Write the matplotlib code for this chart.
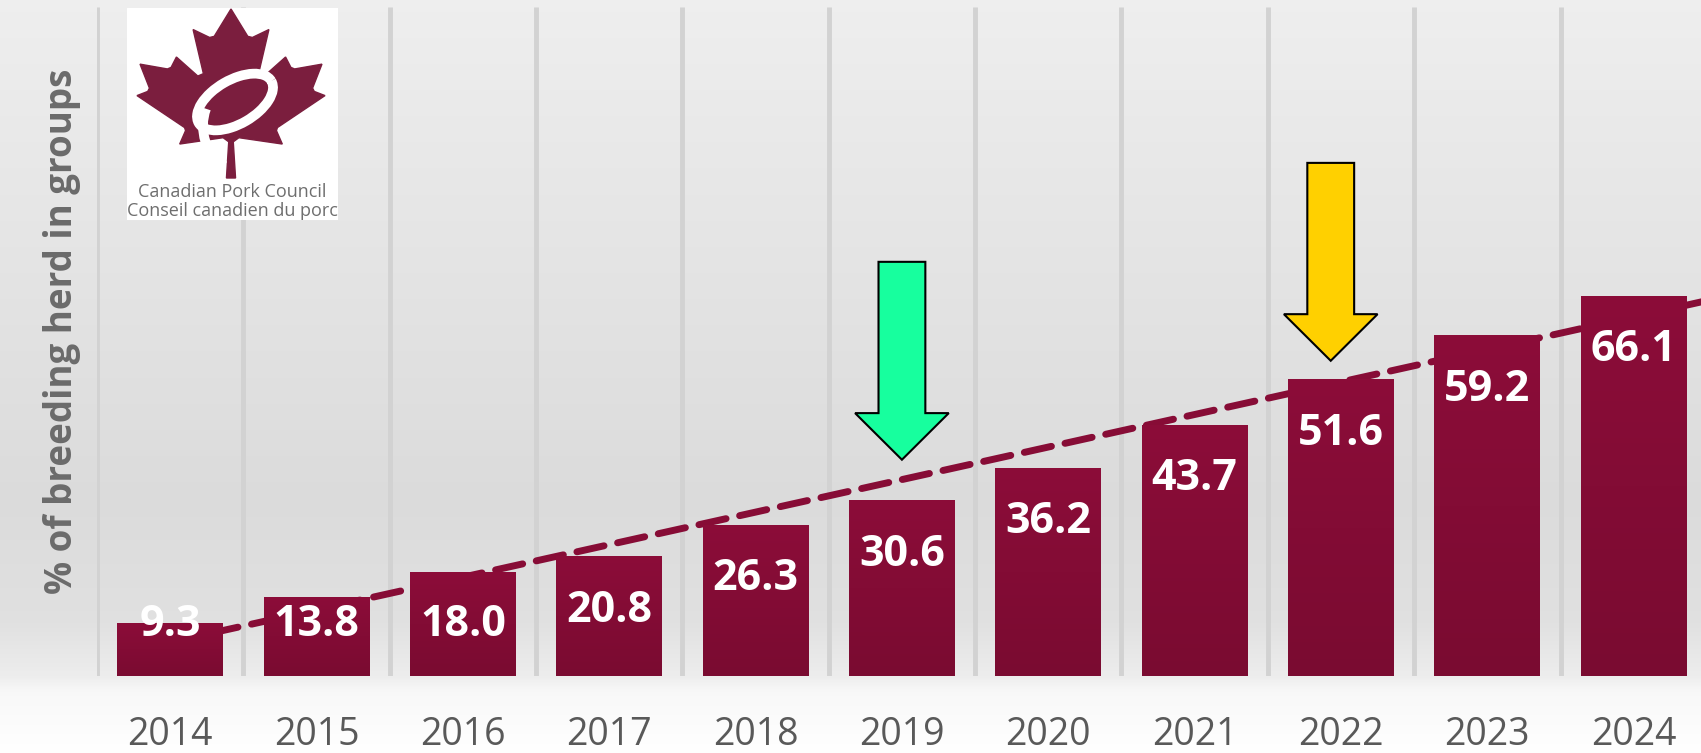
import numpy as np
import matplotlib.pyplot as plt
from matplotlib.patches import Polygon, FancyArrow, Arc, Rectangle
from matplotlib.colors import LinearSegmentedColormap

years = ['2014', '2015', '2016', '2017', '2018', '2019', '2020', '2021', '2022', '2023', '2024']
share = [9.3, 13.8, 18.0, 20.8, 26.3, 30.6, 36.2, 43.7, 51.6, 59.2, 66.1]

# the two highlight arrows: x position (category index), top and tip in % units
arrow_x = [5.0, 7.93]
arrow_top = [72.0, 89.2]
arrow_tip = [37.6, 54.8]
arrow_col = ['#17ff9e', '#ffd000']

W, H = 1701, 753
fig = plt.figure(figsize=(W / 100, H / 100), dpi=100)

# background gradient
bg = fig.add_axes([0, 0, 1, 1])
rows = np.arange(H)
stops = [0, 300, 500, 620, 676, 692, 753]
greys = [0.935, 0.89, 0.86, 0.88, 0.93, 0.975, 1.0]
g = np.interp(rows, stops, greys)
bg.imshow(np.dstack([g, g, g])[:, None, :].reshape(H, 1, 3), aspect='auto', extent=[0, 1, 0, 1])
bg.set_axis_off()

x = np.arange(len(years))
ax = fig.add_axes([97 / W, 77 / H, (W - 97) / W, (746 - 77) / H])
ax.patch.set_alpha(0)
ax.vlines(np.arange(-0.5, len(years) + 0.5), 0, 116.3, color='#d2d2d2', lw=3.5, zorder=0)

bars = ax.bar(x, share, width=0.724, color='#850c35', zorder=3)
cmap = LinearSegmentedColormap.from_list('bar', ['#7a0b31', '#8c0d39'])
grad = np.linspace(0, 1, 256).reshape(-1, 1)
for b in bars:
    x0 = b.get_x()
    im = ax.imshow(grad, cmap=cmap, origin='lower', aspect='auto', zorder=3.1,
                   extent=[x0, x0 + b.get_width(), 0, b.get_height()])
    im.set_clip_path(b)

# linear trend line
coef = np.polyfit(x, share, 1)
xx = np.array([0, 11])
ax.plot(xx, np.polyval(coef, xx), color='#870c36', lw=5, ls='--', dashes=(4, 2),
        dash_capstyle='round', zorder=2)

for xi, v in zip(x, share):
    ax.text(xi, max(v - 9.4, 9.0), f'{v:.1f}', ha='center', va='center', color='white',
            fontsize=31, fontweight='bold', family='Open Sans', zorder=5)

for xa, yt, yb, c in zip(arrow_x, arrow_top, arrow_tip, arrow_col):
    ax.add_patch(FancyArrow(xa, yt, 0, yb - yt, width=0.32, head_width=0.64, head_length=8.1,
                            length_includes_head=True, facecolor=c, edgecolor='black',
                            lw=1.5, zorder=6))

ax.set_xlim(-0.5, 10.46)
ax.set_ylim(0, 116.3)
ax.set_xticks(x)
ax.set_xticklabels(years, fontsize=27, color='#595959', family='Open Sans')
ax.tick_params(axis='x', length=0, pad=29)
ax.set_yticks([])
for s in ax.spines.values():
    s.set_visible(False)

fig.text(62 / W, 1 - 331 / H, '% of breeding herd in groups', rotation=90, ha='center',
         va='center', fontsize=26.5, fontweight='bold', color='#6b6b6b', family='Open Sans')

# logo
lg = fig.add_axes([127 / W, 1 - 220 / H, 211 / W, 212 / H])
lg.set_xlim(0, 211)
lg.set_ylim(212, 0)
lg.add_patch(Rectangle((0, 0), 211, 212, color='white'))
leaf = np.array([
    (-90, 2030), (-45, 1167), (-156, 1069), (-1015, 1220), (-899, 900), (-919, 827),
    (-1860, 65), (-1648, -34), (-1614, -113), (-1800, -685), (-1258, -570), (-1185, -608),
    (-1080, -855), (-657, -401), (-546, -458), (-750, -1510), (-423, -1321), (-332, -1348),
    (0, -2000), (332, -1348), (423, -1321), (750, -1510), (546, -458), (657, -401),
    (1080, -855), (1185, -608), (1258, -570), (1800, -685), (1614, -113), (1648, -34),
    (1860, 65), (919, 827), (899, 900), (1015, 1220), (156, 1069), (45, 1167), (90, 2030)])
lx = 104 + leaf[:, 0] / 1860 * 94
ly = 1 + (leaf[:, 1] + 2000) / 4030 * 169
lg.add_patch(Polygon(np.column_stack([lx, ly]), closed=True, color='#7b1e3e'))
lg.add_patch(Arc((108, 94), 84, 44, angle=-30, color='white', lw=7))
lg.add_patch(Arc((116, 118), 80, 90, angle=0, theta1=115, theta2=205, color='white', lw=7))
lg.text(105, 184, 'Canadian Pork Council', ha='center', va='center', fontsize=13,
        color='#6e6e6e', family='Open Sans')
lg.text(105, 203, 'Conseil canadien du porc', ha='center', va='center', fontsize=13,
        color='#6e6e6e', family='Open Sans')
lg.set_axis_off()

fig.savefig('out.png', dpi=100)
